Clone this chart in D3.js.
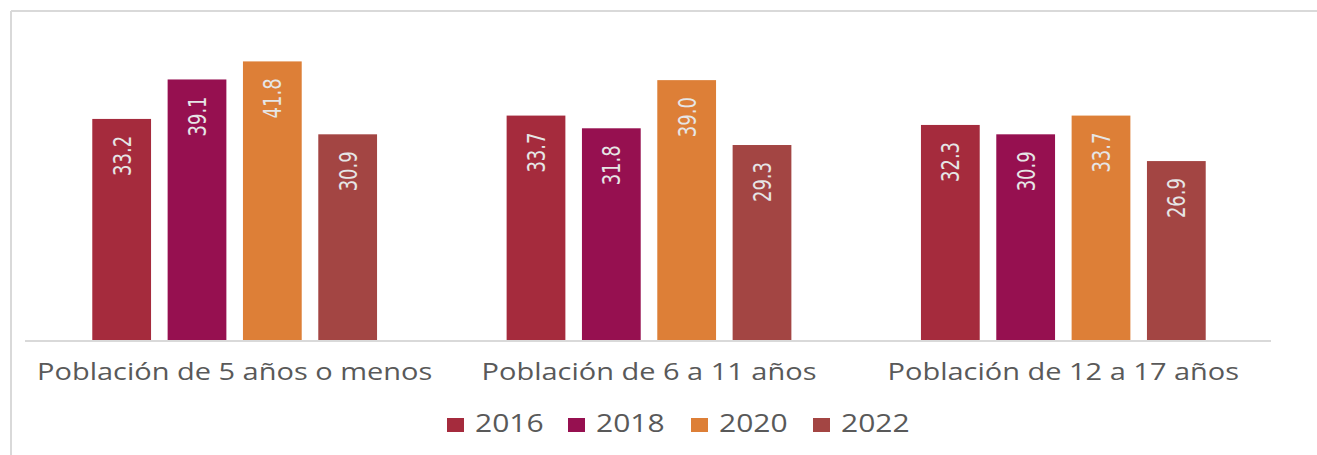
<!doctype html>
<html>
<head>
<meta charset="utf-8">
<script src="https://d3js.org/d3.v7.min.js"></script>
<style>
  body { margin: 0; background: #fff; }
  svg { display: block; }
</style>
</head>
<body>
<svg id="chart" width="1317" height="455"></svg>
<script>
  // data
  const groups = ["Población de 5 años o menos", "Población de 6 a 11 años", "Población de 12 a 17 años"]
  const years = ["2016", "2018", "2020", "2022"]
  const v2016 = [33.2, 33.7, 32.3]
  const v2018 = [39.1, 31.8, 30.9]
  const v2020 = [41.8, 39.0, 33.7]
  const v2022 = [30.9, 29.3, 26.9]
  const series = [v2016, v2018, v2020, v2022]
  const colors = ["#a52b3d", "#961050", "#dd7f37", "#a34543"]

  const width = 1317, height = 455
  const stretch = 1.26 // the source image is stretched sideways
  const svg = d3.select("#chart")

  // chart frame (only left and top edges show in the picture)
  svg.append("line").attr("x1", 11).attr("x2", 11).attr("y1", 11).attr("y2", height)
    .attr("stroke", "#d9d9d9").attr("stroke-width", 2)
  svg.append("line").attr("x1", 11).attr("x2", width).attr("y1", 11).attr("y2", 11)
    .attr("stroke", "#d9d9d9").attr("stroke-width", 2)

  const x0 = d3.scaleBand().domain(groups).range([27.5, 1270.5])
  const x1 = d3.scaleBand().domain(years).range([0, x0.bandwidth()])
    .paddingInner(0.22).paddingOuter(0.86)
  const y = d3.scaleLinear().domain([0, 45]).range([341, 40])

  const rows = []
  groups.forEach((g, i) => years.forEach((yr, j) => rows.push({g, yr, v: series[j][i], c: colors[j]})))

  svg.append("g").selectAll("rect").data(rows).join("rect")
    .attr("x", d => x0(d.g) + x1(d.yr))
    .attr("y", d => y(d.v))
    .attr("width", x1.bandwidth())
    .attr("height", d => y(0) - y(d.v))
    .attr("fill", d => d.c)

  // value labels, rotated, inside end
  svg.append("g").selectAll("text").data(rows).join("text")
    .attr("transform", d => `translate(${x0(d.g) + x1(d.yr) + x1.bandwidth() / 2},${y(d.v) + 17}) scale(${stretch},1) rotate(-90)`)
    .attr("text-anchor", "end")
    .attr("dy", "0.36em")
    .attr("font-family", "'Liberation Sans Narrow', 'DejaVu Sans Condensed', sans-serif")
    .attr("font-size", 20)
    .attr("fill", "#e6e6e6")
    .text(d => d.v.toFixed(1))

  // axis
  const axis = svg.append("g").attr("transform", `translate(0,${y(0)})`)
    .call(d3.axisBottom(x0).tickSize(0).tickPadding(0))
  axis.select(".domain").attr("stroke", "#d9d9d9").attr("stroke-width", 2)
    .attr("d", `M25,0H1271`)
  axis.selectAll("text")
    .attr("y", 39)
    .attr("dy", 0)
    .attr("transform", `scale(${stretch},1)`)
    .attr("fill", "#595959")
    .attr("font-family", "'Open Sans', sans-serif")
    .attr("font-size", 23)

  // legend
  const legendX = [447, 568, 691, 813]
  const leg = svg.append("g").selectAll("g").data(years).join("g")
    .attr("transform", (d, i) => `translate(${legendX[i]},432)`)
  leg.append("rect").attr("x", 0).attr("y", -14).attr("width", 17).attr("height", 14)
    .attr("fill", (d, i) => colors[i])
  leg.append("text").attr("transform", `translate(28,0) scale(1.2,1)`)
    .attr("fill", "#595959")
    .attr("font-family", "'Open Sans', sans-serif")
    .attr("font-size", 25)
    .text(d => d)
</script>
</body>
</html>
